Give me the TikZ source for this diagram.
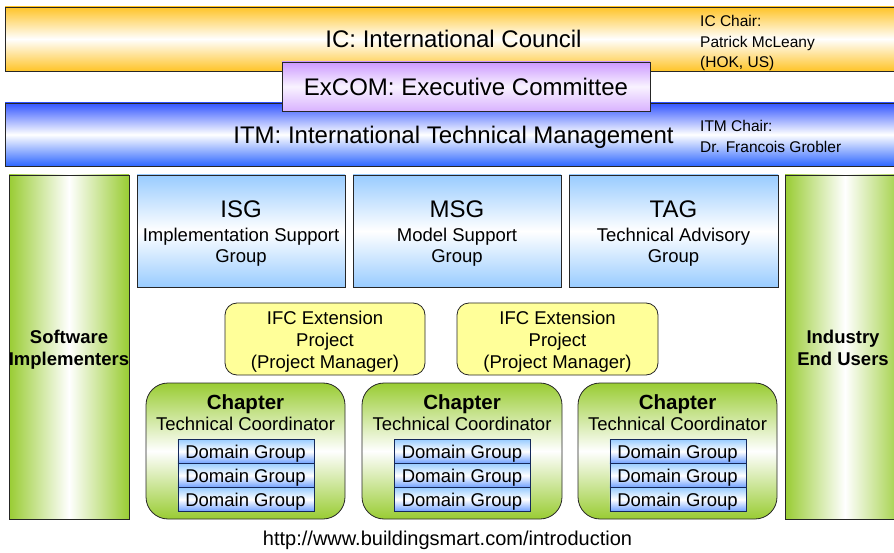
\documentclass[tikz,border=0pt]{standalone}
\usepackage{fontspec}
\setmainfont{Liberation Sans}
\newcommand\fsz[2]{\fontsize{#1}{#2}\selectfont}
\definecolor{icorange}{RGB}{255,196,40}
\definecolor{itmblue}{RGB}{51,85,255}
\definecolor{exviolet}{RGB}{204,153,255}
\definecolor{grpblue}{RGB}{153,204,255}
\definecolor{domblue}{RGB}{110,160,255}
\definecolor{chgreen}{RGB}{153,204,51}
\definecolor{ifcyellow}{RGB}{255,255,153}
\definecolor{navy}{RGB}{20,40,90}
\tikzset{
  box/.style={draw=black!85, line width=0.8pt, anchor=north west, inner sep=0pt, outer sep=0pt},
  icbar/.style={box, top color=icorange, bottom color=icorange, middle color=white},
  itmbar/.style={box, top color=itmblue, bottom color=itmblue!90!cyan, middle color=white},
  exbox/.style={box, top color=exviolet, bottom color=exviolet!75, middle color=exviolet!12},
  grpbox/.style={box, top color=grpblue, bottom color=grpblue, middle color=white},
  sidebox/.style={box, left color=chgreen, right color=chgreen, middle color=white},
  ifcbox/.style={box, fill=ifcyellow, rounded corners=12pt},
  chbox/.style={box, rounded corners=22pt, top color=chgreen, bottom color=chgreen, middle color=white},
  dombox/.style={draw=navy, line width=0.8pt, anchor=north west, inner sep=0pt, minimum width=136pt, minimum height=24pt,
     top color=grpblue, bottom color=domblue, middle color=white},
  big/.style={font=\fsz{24}{26}, anchor=base, inner sep=0pt},
  mid/.style={font=\fsz{18.5}{21.5}, anchor=base, inner sep=0pt},
  chair/.style={font=\fsz{15.5}{20.5}, anchor=base west, inner sep=0pt},
  bld/.style={font=\fsz{18.5}{22}\bfseries, anchor=base, inner sep=0pt},
  chtitle/.style={font=\fsz{20.5}{22}\bfseries, anchor=base, inner sep=0pt},
}
\begin{document}
\begin{tikzpicture}[x=1pt,y=-1pt]
\useasboundingbox (0,0) rectangle (894,553);
\clip (0,0) rectangle (894,553);
% top bars
\node[icbar, minimum width=900pt, minimum height=64pt] (ic) at (5,7) {};
\node[itmbar, minimum width=900pt, minimum height=63pt] (itm) at (5,103) {};
\node[exbox, minimum width=368pt, minimum height=49pt] (excom) at (282,62) {};
\node[big] (ictxt) at (453.5,48) {IC: International Council};
\node[big] (extxt) at (466,96) {ExCOM: Executive Committee};
\node[big] (itmtxt) at (453.5,144) {ITM: International Technical Management};
\node[chair] (icc1) at (700,27) {IC Chair:};
\node[chair] (icc2) at (700,47.5) {Patrick McLeany};
\node[chair] (icc3) at (700,68) {(HOK, US)};
\node[chair] (itc1) at (700,132) {ITM Chair:};
\node[chair] (itc2) at (700,153) {Dr. Francois Grobler};
% side columns
\node[sidebox, minimum width=120pt, minimum height=344pt] (sw) at (9,175) {};
\node[sidebox, minimum width=120pt, minimum height=344pt] (iu) at (785,175) {};
\node[bld] (sw1) at (69,343) {Software};
\node[bld] (sw2) at (69,365) {Implementers};
\node[bld] (iu1) at (843,343) {Industry};
\node[bld] (iu2) at (843,365) {End Users};
% groups
\node[grpbox, minimum width=208pt, minimum height=112pt] (isg) at (137,175) {};
\node[grpbox, minimum width=208pt, minimum height=112pt] (msg) at (353,175) {};
\node[grpbox, minimum width=209pt, minimum height=112pt] (tag) at (569,175) {};
\foreach \n/\cx/\a/\b/\c in {isg/241/ISG/Implementation Support/Group,
                              msg/457/MSG/Model Support/Group,
                              tag/673.5/TAG/Technical Advisory/Group}{
  \node[big] (\n t1) at (\cx,218) {\a};
  \node[mid] (\n t2) at (\cx,242) {\b};
  \node[mid] (\n t3) at (\cx,263) {\c};
}
% IFC projects
\node[ifcbox, minimum width=200pt, minimum height=72pt] (ifc1) at (225,303) {};
\node[ifcbox, minimum width=201pt, minimum height=72pt] (ifc2) at (457,303) {};
\foreach \n/\cx in {ifc1/325, ifc2/557.5}{
  \node[mid] (\n t1) at (\cx,324.5) {IFC Extension};
  \node[mid] (\n t2) at (\cx,346.5) {Project};
  \node[mid] (\n t3) at (\cx,368.5) {(Project Manager)};
}
% chapters
\node[chbox, minimum width=199pt, minimum height=136pt] (ch1) at (146,383) {};
\node[chbox, minimum width=200pt, minimum height=136pt] (ch2) at (362,383) {};
\node[chbox, minimum width=199pt, minimum height=136pt] (ch3) at (578,383) {};
\foreach \n/\cx in {ch1/245.5, ch2/462, ch3/677.5}{
  \node[chtitle] (\n t1) at (\cx,409) {Chapter};
  \node[mid] (\n t2) at (\cx,430) {Technical Coordinator};
  \foreach \k/\ty in {1/439, 2/463, 3/487}{
    \node[dombox] (\n d\k) at ({\cx-68},\ty) {};
    \node[mid] (\n dt\k) at (\cx,{\ty+19}) {Domain Group};
  }
}
% url
\node[font=\fsz{20}{22}, anchor=base, inner sep=0pt] (url) at (447.5,545) {http://www.buildingsmart.com/introduction};
\end{tikzpicture}
\end{document}
